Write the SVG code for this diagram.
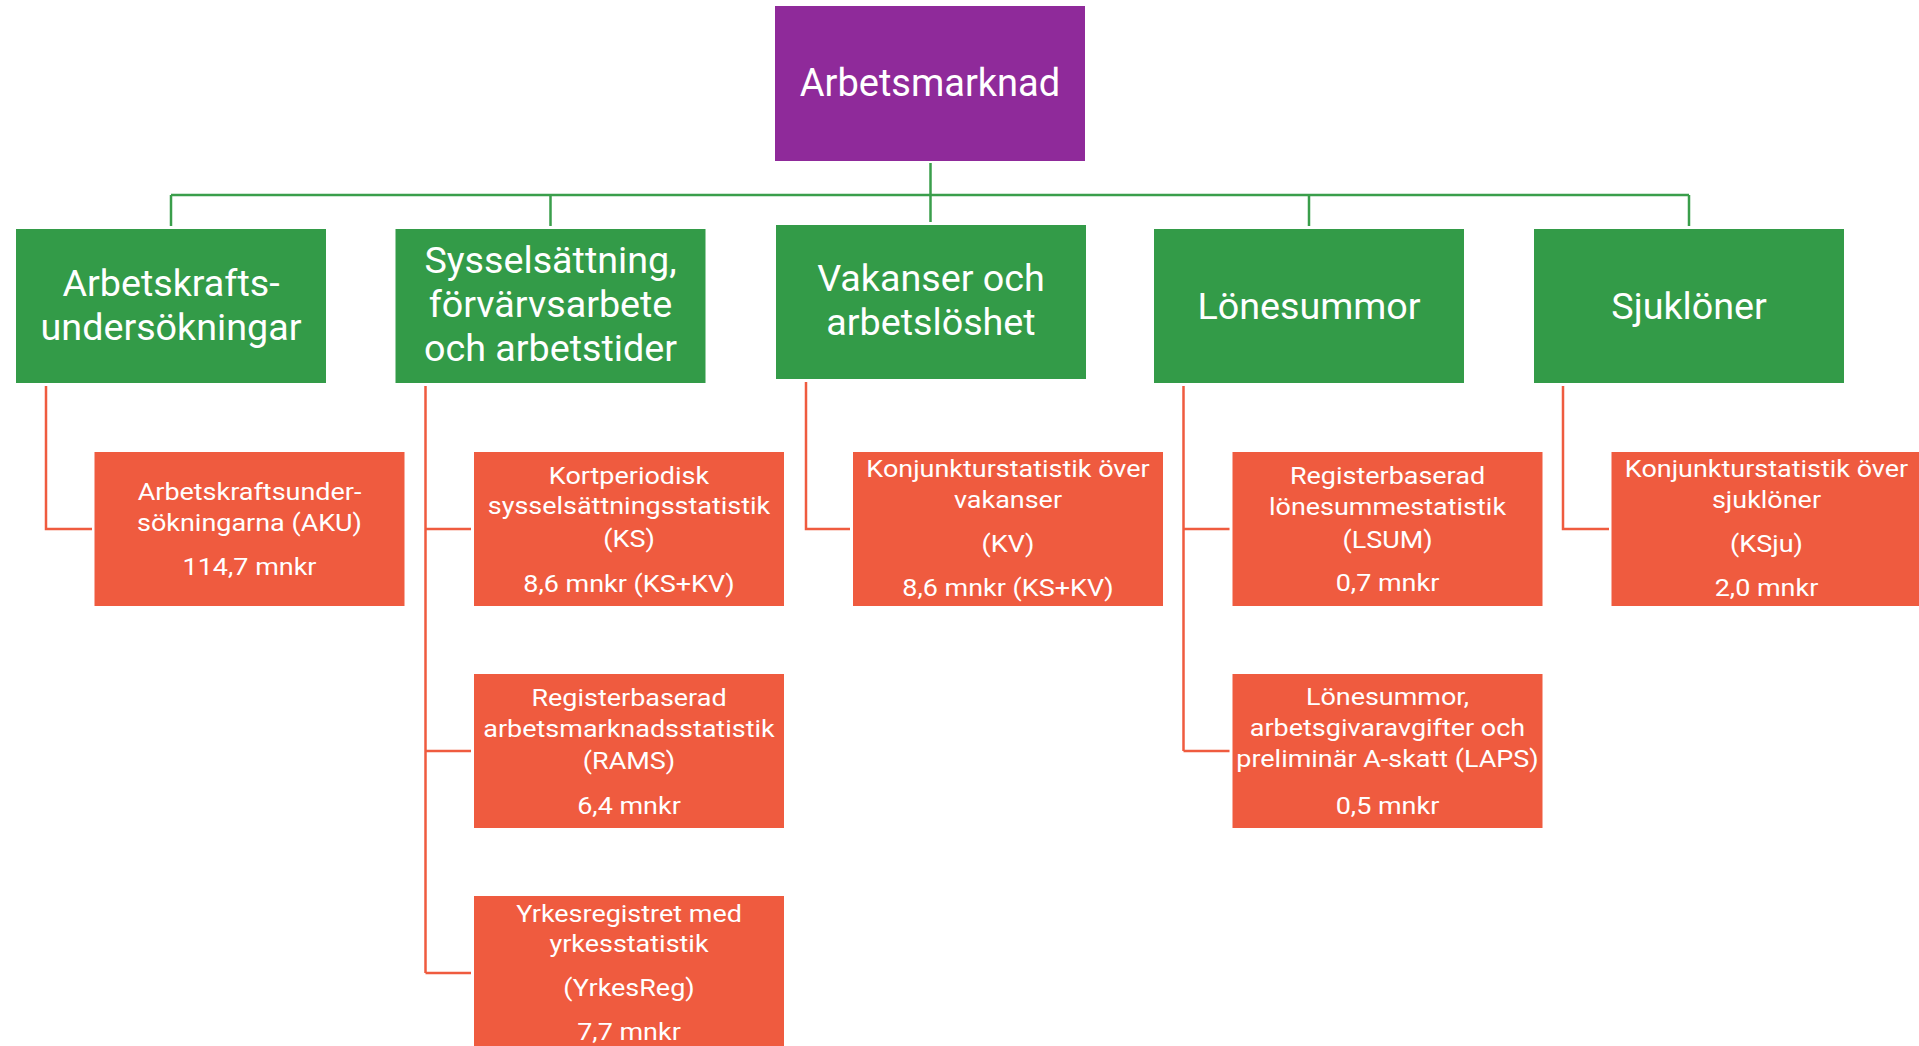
<svg xmlns="http://www.w3.org/2000/svg" width="1919" height="1046" viewBox="0 0 1919 1046">
<style>
.bg{fill:#ffffff}
.p{fill:#8F2A9A}
.g{fill:#339B48}
.o{fill:#EF5B3F}
.t{fill:#ffffff;font-family:Roboto,"Liberation Sans",sans-serif;text-anchor:middle}
.tb{font-size:38px}
.tg{font-size:37.7px}
.to{font-size:24.5px}
.cg{fill:none;stroke:#3A9E4B;stroke-width:2.5}
.co{fill:none;stroke:#EF5B3F;stroke-width:2.5}
</style>
<rect class="bg" x="0" y="0" width="1919" height="1046"/>
<g id="connectors">
  <path class="cg" d="M930.5,163 V222 M171,195 H1689 M171,195 V226 M550.5,195 V226 M1309,195 V226 M1689,195 V226"/>
  <path class="co" d="M46,386 V529 H92"/>
  <path class="co" d="M425.5,386 V973 M425.5,529 H471 M425.5,751 H471 M425.5,973 H471"/>
  <path class="co" d="M806,382 V529 H850"/>
  <path class="co" d="M1183.5,386 V751 M1183.5,529 H1229.5 M1183.5,751 H1229.5"/>
  <path class="co" d="M1563,386 V529 H1609"/>
</g>
<g id="arbetsmarknad">
  <rect class="p" x="775" y="6" width="310" height="155"/>
  <text class="t tb" x="930" y="96">Arbetsmarknad</text>
</g>
<g id="arbetskraftsundersokningar">
  <rect class="g" x="16" y="229" width="310" height="154"/>
  <text class="t tg"><tspan x="171" y="296">Arbetskrafts-</tspan><tspan x="171" y="340">undersökningar</tspan></text>
</g>
<g id="sysselsattning">
  <rect class="g" x="395.5" y="229" width="310" height="154"/>
  <text class="t tg"><tspan x="550.5" y="273">Sysselsättning,</tspan><tspan x="550.5" y="317">förvärvsarbete</tspan><tspan x="550.5" y="361">och arbetstider</tspan></text>
</g>
<g id="vakanser">
  <rect class="g" x="776" y="225" width="310" height="154"/>
  <text class="t tg"><tspan x="931" y="291">Vakanser och</tspan><tspan x="931" y="335">arbetslöshet</tspan></text>
</g>
<g id="lonesummor">
  <rect class="g" x="1154" y="229" width="310" height="154"/>
  <text class="t tg" x="1309" y="319">Lönesummor</text>
</g>
<g id="sjuklonerg">
  <rect class="g" x="1534" y="229" width="310" height="154"/>
  <text class="t tg" x="1689" y="319">Sjuklöner</text>
</g>
<g id="aku">
  <rect class="o" x="94.5" y="452" width="310" height="154"/>
  <text class="t to" transform="translate(249.5 0) scale(1.1 1)"><tspan x="0" y="500">Arbetskraftsunder-</tspan><tspan x="0" y="531.5">sökningarna (AKU)</tspan><tspan x="0" y="575">114,7 mnkr</tspan></text>
</g>
<g id="ks">
  <rect class="o" x="474" y="452" width="310" height="154"/>
  <text class="t to" transform="translate(629 0) scale(1.1 1)"><tspan x="0" y="484">Kortperiodisk</tspan><tspan x="0" y="514">sysselsättningsstatistik</tspan><tspan x="0" y="547">(KS)</tspan><tspan x="0" y="592">8,6 mnkr (KS+KV)</tspan></text>
</g>
<g id="rams">
  <rect class="o" x="474" y="674" width="310" height="154"/>
  <text class="t to" transform="translate(629 0) scale(1.1 1)"><tspan x="0" y="706">Registerbaserad</tspan><tspan x="0" y="737">arbetsmarknadsstatistik</tspan><tspan x="0" y="769">(RAMS)</tspan><tspan x="0" y="814">6,4 mnkr</tspan></text>
</g>
<g id="yrkesreg">
  <rect class="o" x="474" y="896" width="310" height="154"/>
  <text class="t to" transform="translate(629 0) scale(1.1 1)"><tspan x="0" y="922">Yrkesregistret med</tspan><tspan x="0" y="952">yrkesstatistik</tspan><tspan x="0" y="996">(YrkesReg)</tspan><tspan x="0" y="1040">7,7 mnkr</tspan></text>
</g>
<g id="kv">
  <rect class="o" x="853" y="452" width="310" height="154"/>
  <text class="t to" transform="translate(1008 0) scale(1.1 1)"><tspan x="0" y="477">Konjunkturstatistik över</tspan><tspan x="0" y="508">vakanser</tspan><tspan x="0" y="552">(KV)</tspan><tspan x="0" y="596">8,6 mnkr (KS+KV)</tspan></text>
</g>
<g id="lsum">
  <rect class="o" x="1232.5" y="452" width="310" height="154"/>
  <text class="t to" transform="translate(1387.5 0) scale(1.1 1)"><tspan x="0" y="484">Registerbaserad</tspan><tspan x="0" y="515">lönesummestatistik</tspan><tspan x="0" y="548">(LSUM)</tspan><tspan x="0" y="591">0,7 mnkr</tspan></text>
</g>
<g id="laps">
  <rect class="o" x="1232.5" y="674" width="310" height="154"/>
  <text class="t to" transform="translate(1387.5 0) scale(1.1 1)"><tspan x="0" y="705">Lönesummor,</tspan><tspan x="0" y="736">arbetsgivaravgifter och</tspan><tspan x="0" y="767">preliminär A-skatt (LAPS)</tspan><tspan x="0" y="814">0,5 mnkr</tspan></text>
</g>
<g id="ksju">
  <rect class="o" x="1611.5" y="452" width="310" height="154"/>
  <text class="t to" transform="translate(1766.5 0) scale(1.1 1)"><tspan x="0" y="477">Konjunkturstatistik över</tspan><tspan x="0" y="508">sjuklöner</tspan><tspan x="0" y="552">(KSju)</tspan><tspan x="0" y="596">2,0 mnkr</tspan></text>
</g>
</svg>
